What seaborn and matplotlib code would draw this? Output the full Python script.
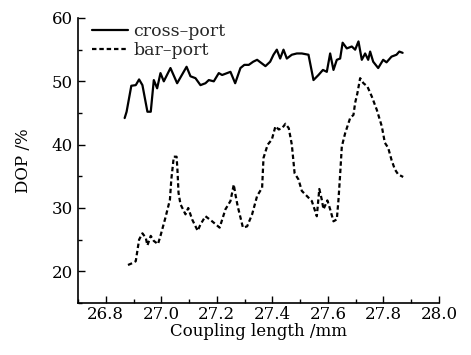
import numpy as np
import pandas as pd
import matplotlib
matplotlib.use("Agg")
import matplotlib.pyplot as plt
from matplotlib.ticker import MultipleLocator
import seaborn as sns

# cross-port (solid)
cross_x = [26.868, 26.875, 26.892, 26.908, 26.920, 26.932, 26.950, 26.962, 26.973, 26.985,
           26.997, 27.009, 27.033, 27.057, 27.091, 27.105, 27.123, 27.141, 27.159, 27.171,
           27.189, 27.207, 27.219, 27.237, 27.249, 27.266, 27.285, 27.299, 27.315, 27.331,
           27.345, 27.357, 27.375, 27.392, 27.404, 27.416, 27.428, 27.440, 27.452, 27.470,
           27.488, 27.506, 27.530, 27.548, 27.566, 27.582, 27.596, 27.608, 27.620, 27.632,
           27.644, 27.653, 27.668, 27.686, 27.698, 27.710, 27.722, 27.734, 27.745, 27.752,
           27.763, 27.781, 27.799, 27.811, 27.829, 27.847, 27.857, 27.869]
cross_y = [44.2, 45.2, 49.3, 49.4, 50.3, 49.4, 45.2, 45.2, 50.2, 48.9,
           51.3, 50.0, 52.1, 49.7, 52.3, 50.8, 50.5, 49.4, 49.7, 50.2,
           50.0, 51.3, 51.0, 51.3, 51.5, 49.7, 52.1, 52.6, 52.6, 53.1,
           53.4, 53.0, 52.4, 53.1, 54.2, 55.0, 53.6, 55.0, 53.6, 54.2,
           54.4, 54.4, 54.2, 50.2, 51.0, 51.8, 51.5, 54.4, 51.8, 53.4,
           53.6, 56.1, 55.2, 55.5, 55.0, 56.3, 53.4, 54.4, 53.4, 54.7,
           53.1, 52.1, 53.4, 53.0, 53.9, 54.2, 54.7, 54.5]

# bar-port (dashed)
bar_x = [26.880, 26.896, 26.908, 26.920, 26.932, 26.944, 26.950, 26.962, 26.973, 26.988,
         26.997, 27.015, 27.031, 27.036, 27.045, 27.055, 27.058, 27.062, 27.069, 27.087,
         27.097, 27.111, 27.131, 27.141, 27.159, 27.183, 27.210, 27.231, 27.249, 27.261,
         27.267, 27.275, 27.294, 27.309, 27.327, 27.345, 27.363, 27.368, 27.383, 27.398,
         27.411, 27.423, 27.435, 27.447, 27.459, 27.470, 27.480, 27.494, 27.506, 27.524,
         27.542, 27.560, 27.569, 27.578, 27.584, 27.598, 27.608, 27.620, 27.632, 27.638,
         27.644, 27.650, 27.662, 27.680, 27.692, 27.698, 27.706, 27.716, 27.728, 27.742,
         27.758, 27.776, 27.794, 27.805, 27.817, 27.829, 27.841, 27.853, 27.871]
bar_y = [21.0, 21.3, 21.6, 25.0, 26.0, 25.3, 24.1, 25.6, 24.8, 24.3,
         25.6, 28.5, 31.3, 34.5, 38.1, 38.1, 36.1, 32.4, 30.6, 29.0,
         30.0, 28.2, 26.4, 27.4, 28.7, 27.9, 26.9, 29.8, 31.1, 33.7,
         32.1, 30.3, 26.9, 27.1, 29.0, 31.9, 33.2, 37.9, 40.0, 40.8,
         42.9, 42.4, 42.6, 43.3, 42.6, 40.0, 35.5, 34.5, 32.7, 31.9,
         31.1, 28.7, 33.0, 31.3, 29.8, 31.2, 29.8, 27.9, 28.2, 31.3,
         35.3, 39.7, 41.8, 44.2, 44.7, 46.6, 48.1, 50.5, 49.7, 49.2,
         47.6, 45.5, 42.9, 40.3, 39.5, 37.6, 36.1, 35.3, 34.9]

labels = ["cross\u2013port", "bar\u2013port"]
x_ticks = [26.8, 27.0, 27.2, 27.4, 27.6, 27.8, 28.0]
y_ticks = [20, 30, 40, 50, 60]

sns.set_style("ticks")
plt.rcParams["font.family"] = ["DejaVu Serif"]
plt.rcParams["xtick.direction"] = "in"
plt.rcParams["ytick.direction"] = "in"

fig = plt.figure(figsize=(4.71, 3.55), dpi=100)
ax = fig.add_axes([78/471, 1 - 303/355, (439-78)/471, (303-18)/355])

df_c = pd.DataFrame({"x": cross_x, "y": cross_y})
df_b = pd.DataFrame({"x": bar_x, "y": bar_y})
sns.lineplot(data=df_c, x="x", y="y", ax=ax, color="black", lw=1.6, label=labels[0], sort=False)
sns.lineplot(data=df_b, x="x", y="y", ax=ax, color="black", lw=1.6, label=labels[1], sort=False,
             linestyle=(0, (2.0, 1.3)))

ax.set_xlim(26.7, 28.0)
ax.set_ylim(15, 60)
ax.set_xticks(x_ticks)
ax.set_xticklabels([f"{v:.1f}" for v in x_ticks])
ax.set_yticks(y_ticks)
ax.xaxis.set_minor_locator(MultipleLocator(0.1))
ax.yaxis.set_minor_locator(MultipleLocator(5))
ax.tick_params(which="major", length=5, width=1.0, labelsize=12, color="black", labelcolor="black")
ax.tick_params(axis="x", which="major", pad=2)
ax.tick_params(which="minor", length=3, width=1.0, color="black")
for s in ["top", "right"]:
    ax.spines[s].set_visible(False)
for s in ["left", "bottom"]:
    ax.spines[s].set_linewidth(1.2)
    ax.spines[s].set_color("black")

ax.set_xlabel("Coupling length /mm", fontsize=12, labelpad=0, color="black")
ax.set_ylabel("DOP /%", fontsize=12, labelpad=14, color="black")

leg = ax.legend(loc="upper left", bbox_to_anchor=(0.019, 1.008), frameon=False, fontsize=12.5,
                handlelength=2.1, handletextpad=0.3, labelspacing=0.15, borderaxespad=0)

fig.savefig("out.png", dpi=100, facecolor="white")
